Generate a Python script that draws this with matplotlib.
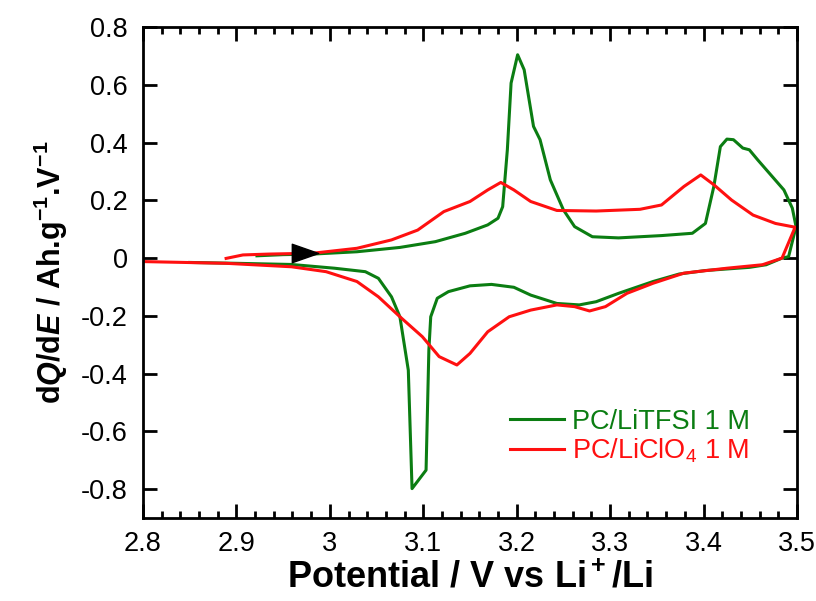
import matplotlib
matplotlib.use("Agg")
import matplotlib.pyplot as plt
from matplotlib.path import Path
from matplotlib.ticker import MultipleLocator, FuncFormatter

plt.rcParams['font.family'] = ['Liberation Sans', 'DejaVu Sans']
plt.rcParams['mathtext.fontset'] = 'custom'
plt.rcParams['mathtext.rm'] = 'Liberation Sans:bold'
plt.rcParams['mathtext.it'] = 'Liberation Sans:italic:bold'
plt.rcParams['mathtext.bf'] = 'Liberation Sans:bold'
plt.rcParams['axes.unicode_minus'] = False

# PC/LiTFSI 1 M : charge (upper) branch, then discharge (lower) branch
tfsi_up_x = [2.922, 2.95, 2.982, 3.029, 3.075, 3.113, 3.145, 3.169, 3.18, 3.185,
             3.190, 3.194, 3.201, 3.208, 3.218, 3.225, 3.236, 3.25, 3.262, 3.281,
             3.309, 3.355, 3.388, 3.402, 3.411, 3.418, 3.425, 3.432, 3.442, 3.449,
             3.458, 3.472, 3.486, 3.495, 3.499]
tfsi_up_y = [0.008, 0.012, 0.014, 0.022, 0.037, 0.057, 0.086, 0.115, 0.138, 0.178,
             0.375, 0.606, 0.704, 0.652, 0.456, 0.41, 0.271, 0.167, 0.109, 0.074,
             0.07, 0.078, 0.086, 0.12, 0.248, 0.386, 0.412, 0.41, 0.381, 0.375,
             0.34, 0.288, 0.236, 0.173, 0.109]
tfsi_dn_x = [3.491, 3.484, 3.467, 3.449, 3.402, 3.374, 3.346, 3.309, 3.285, 3.267,
             3.243, 3.215, 3.197, 3.173, 3.15, 3.127, 3.115, 3.108, 3.106, 3.103,
             3.088, 3.084, 3.075, 3.066, 3.052, 3.038, 3.005, 2.959, 2.90, 2.85]
tfsi_dn_y = [0.005, 0.0, -0.023, -0.032, -0.043, -0.055, -0.081, -0.122, -0.151, -0.162,
             -0.157, -0.128, -0.101, -0.091, -0.096, -0.116, -0.139, -0.203, -0.318, -0.734,
             -0.798, -0.388, -0.203, -0.134, -0.070, -0.047, -0.035, -0.022, -0.018, -0.015]

# PC/LiClO4 1 M
clo4_up_x = [2.889, 2.907, 2.935, 2.982, 3.029, 3.066, 3.094, 3.122, 3.15, 3.169,
             3.183, 3.197, 3.215, 3.243, 3.285, 3.332, 3.355, 3.379, 3.397, 3.411,
             3.43, 3.453, 3.477, 3.498]
clo4_up_y = [-0.001, 0.011, 0.014, 0.017, 0.034, 0.063, 0.097, 0.161, 0.196, 0.236,
             0.262, 0.236, 0.196, 0.165, 0.163, 0.169, 0.184, 0.248, 0.288, 0.254,
             0.201, 0.149, 0.12, 0.107]
clo4_dn_x = [3.484, 3.463, 3.425, 3.379, 3.346, 3.318, 3.295, 3.278, 3.262, 3.243,
             3.215, 3.192, 3.169, 3.15, 3.136, 3.117, 3.099, 3.075, 3.052, 3.029,
             2.996, 2.959, 2.889, 2.8]
clo4_dn_y = [0.0, -0.023, -0.035, -0.052, -0.087, -0.122, -0.168, -0.183, -0.168, -0.162,
             -0.18, -0.203, -0.255, -0.33, -0.37, -0.341, -0.272, -0.203, -0.134, -0.081,
             -0.047, -0.03, -0.018, -0.012]

arrow_x, arrow_y = 2.973, 0.016

fig = plt.figure(figsize=(8.16, 6.01), dpi=100)
ax = fig.add_axes([0.1752, 0.138, 0.8015, 0.817])

green = '#0b7d12'
red = '#ff1010'
ax.plot(tfsi_up_x + tfsi_dn_x, tfsi_up_y + tfsi_dn_y, color=green, lw=2.2,
        label='PC/LiTFSI 1 M')
ax.plot(clo4_up_x + clo4_dn_x, clo4_up_y + clo4_dn_y, color=red, lw=2.2,
        label='PC/LiClO$\\mathregular{_4}$ 1 M')

# wide flat triangle showing the scan direction
tri = Path([(-1, -0.7), (1, 0), (-1, 0.7), (-1, -0.7)],
           [Path.MOVETO, Path.LINETO, Path.LINETO, Path.CLOSEPOLY])
ax.plot([arrow_x], [arrow_y], marker=tri, color='black', markersize=19, zorder=5)

ax.set_xlim(2.8, 3.5)
ax.set_ylim(-0.9, 0.8)
ax.xaxis.set_major_locator(MultipleLocator(0.1))
ax.xaxis.set_minor_locator(MultipleLocator(0.02))
ax.yaxis.set_major_locator(MultipleLocator(0.2))
fmt = FuncFormatter(lambda v, p: '%g' % round(v, 3))
ax.xaxis.set_major_formatter(fmt)
ax.yaxis.set_major_formatter(fmt)
ax.tick_params(which='both', direction='in', top=True, right=True, width=2, labelsize=19.5)
ax.tick_params(which='major', length=10)
ax.tick_params(axis='x', which='major', pad=9)
ax.tick_params(axis='y', which='major', pad=11)
ax.tick_params(which='minor', length=5)
for s in ax.spines.values():
    s.set_linewidth(2)

ax.set_xlabel('Potential / V vs Li$\\mathregular{^+}$/Li', fontsize=26, fontweight='bold', labelpad=3)
ax.set_ylabel('d$Q$/d$E$ / Ah.g$\\mathregular{^{-1}}$.V$\\mathregular{^{-1}}$', fontsize=22,
              fontweight='bold', labelpad=8)

leg = ax.legend(loc='upper left', bbox_to_anchor=(0.54, 0.25), frameon=False, fontsize=19.5,
                handlelength=2.0, handletextpad=0.3, labelspacing=0.05, borderpad=0)
for t, c in zip(leg.get_texts(), [green, red]):
    t.set_color(c)

fig.savefig('out.png', dpi=100)
